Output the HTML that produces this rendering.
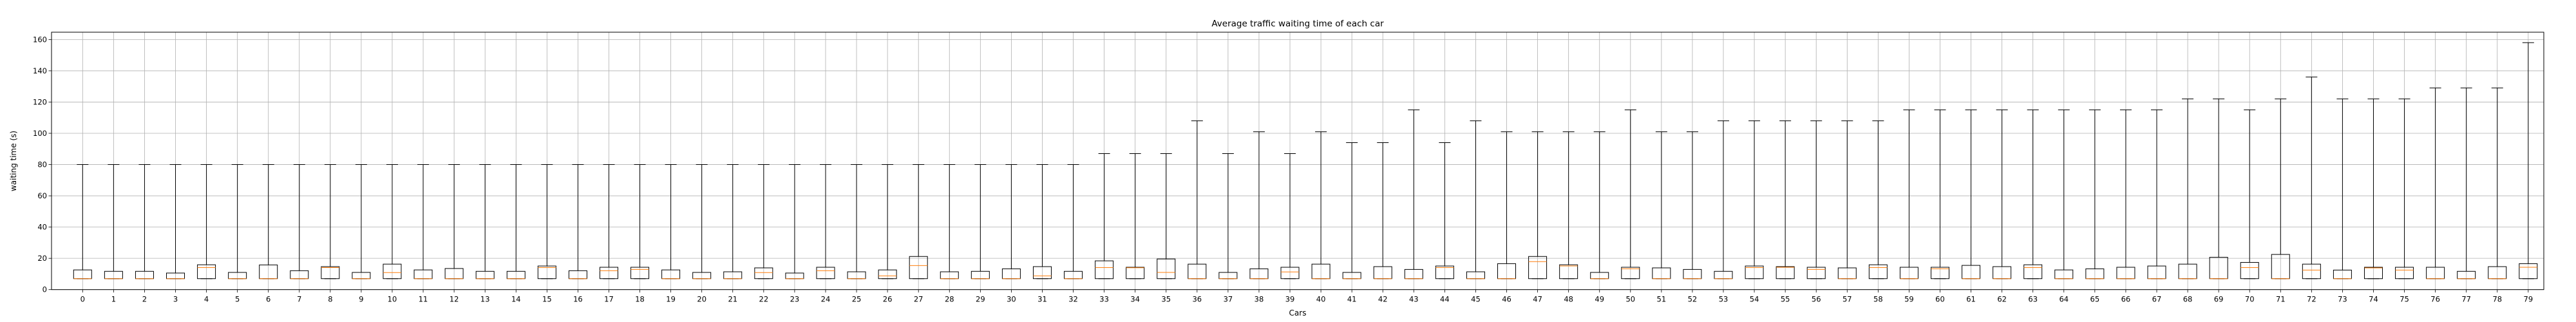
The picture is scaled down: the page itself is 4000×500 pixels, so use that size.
<!DOCTYPE html>
<html><head><meta charset="utf-8"><style>body{margin:0;background:#fff}svg{display:block}text{font-family:"DejaVu Sans","Liberation Sans",sans-serif;fill:#000}</style></head>
<body>
<svg id="chart" width="4000" height="500" viewBox="0 0 4000 500" xmlns="http://www.w3.org/2000/svg">
<text x="2015" y="41" font-size="13.5" text-anchor="middle">Average traffic waiting time of each car</text>
<text x="2015" y="490" font-size="12" text-anchor="middle">Cars</text>
<text transform="translate(25,250) rotate(-90)" font-size="12" text-anchor="middle">waiting time (s)</text>
<g id="grid"></g>
<g id="boxes"></g>
<g id="axes"></g>
</svg>
<script>
const categories = Array.from({length:80},(_,i)=>String(i));
const q1Values = new Array(80).fill(7);
const lowValues = new Array(80).fill(7);
const q3Values = [12.6,11.7,11.7,10.6,15.9,11,15.8,12.1,14.7,11,16.3,12.6,13.5,11.7,11.7,15.1,
12.1,14.3,14.3,12.6,11,11.4,13.9,10.6,14.3,11.4,12.6,21.2,11.4,11.7,13.3,14.7,
11.7,18.4,14.3,19.6,16.3,11,13.3,14.3,16.3,11,14.7,12.9,15.1,11.4,16.6,21.2,
15.9,11,14.3,13.9,12.9,11.7,15.1,14.7,14.3,13.9,15.9,14.3,14.3,15.5,14.7,15.9,
12.6,13.3,14.3,15.1,16.3,20.7,17.4,22.5,16.3,12.5,14.3,14.3,14.3,11.7,14.7,16.6];
const medianValues = [7,7,7,7,14.1,7,7,7,14.1,7,10.9,7,7,7,7,14.1,
7,12.1,12.9,7,7,7,10.9,7,12.1,7,8.8,15.4,7,7,7,8.8,
7,14.1,14,11,7,7,7,11.3,7,7,7,7,14.1,7,7,17.9,
15.1,7,13.3,7,7,7,14.1,14.3,12.9,7,14.1,7,13.3,7,7,14.1,
7,7,7,7,7,7,14.1,7,12.5,7,13.9,12.5,7,7,7,14.3];
const highValues = [80,80,80,80,80,80,80,80,80,80,80,80,80,80,80,80,
80,80,80,80,80,80,80,80,80,80,80,80,80,80,80,80,
80,87,87,87,108,87,101,87,101,94,94,115,94,108,101,101,
101,101,115,101,101,108,108,108,108,108,108,115,115,115,115,115,
115,115,115,115,122,122,115,122,136,122,122,122,129,129,129,158];
const yTicks = [0,20,40,60,80,100,120,140,160];

const L=80,R=3950,T=50,B=449.7;
const NS='http://www.w3.org/2000/svg';
const xs=i=>128.3+i*48.07;
const ys=v=>B-v*2.427;
function mk(parent,tag,attrs){const e=document.createElementNS(NS,tag);for(const k in attrs)e.setAttribute(k,attrs[k]);parent.appendChild(e);return e;}
const grid=document.getElementById('grid'),boxes=document.getElementById('boxes'),axes=document.getElementById('axes');
categories.forEach((c,i)=>{
  const x=xs(i);
  const g=mk(grid,'line',{x1:x,x2:x,y1:T,y2:B,stroke:'#b0b0b0','stroke-width':0.8});
  
  
  const t=mk(axes,'line',{x1:x,x2:x,y1:B,y2:B+4.5,stroke:'#000','stroke-width':0.8});
  
  
  const lb=mk(axes,'text',{x:x,y:B+19,'font-size':11.5,'text-anchor':'middle'});
  lb.textContent=c;
  
  
});
yTicks.forEach(v=>{
  const y=ys(v);
  const g=mk(grid,'line',{x1:L,x2:R,y1:y,y2:y,stroke:'#b0b0b0','stroke-width':0.8});
  
  
  const t=mk(axes,'line',{x1:L-4.5,x2:L,y1:y,y2:y,stroke:'#000','stroke-width':0.8});
  
  
  const lb=mk(axes,'text',{x:L-7,y:y+4,'font-size':11.5,'text-anchor':'end'});
  lb.textContent=String(v);
  
  
});
categories.forEach((c,i)=>{
  const x=xs(i),hw=14,cw=9;
  const g=mk(boxes,'g',{});
  
  
  const w=mk(g,'line',{x1:x,x2:x,y1:ys(q3Values[i]),y2:ys(highValues[i]),stroke:'#000','stroke-width':1});
  
  
  const cap=mk(g,'line',{x1:x-cw,x2:x+cw,y1:ys(highValues[i]),y2:ys(highValues[i]),stroke:'#000','stroke-width':1});
  
  
  const lw=mk(g,'line',{x1:x,x2:x,y1:ys(lowValues[i]),y2:ys(q1Values[i]),stroke:'#000','stroke-width':1});
  
  
  const lc=mk(g,'line',{x1:x-cw,x2:x+cw,y1:ys(lowValues[i]),y2:ys(lowValues[i]),stroke:'#000','stroke-width':1});
  
  
  const r=mk(g,'rect',{x:x-hw,y:ys(q3Values[i]),width:2*hw,height:ys(q1Values[i])-ys(q3Values[i]),fill:'none',stroke:'#000','stroke-width':1});
  
  
  const m=mk(g,'line',{x1:x-hw,x2:x+hw,y1:ys(medianValues[i]),y2:ys(medianValues[i]),stroke:'#ff7f0e','stroke-width':1});
  
  
});
const fr=mk(axes,'rect',{x:L,y:T,width:R-L,height:B-T,fill:'none',stroke:'#000','stroke-width':1});


</script>
</body></html>
